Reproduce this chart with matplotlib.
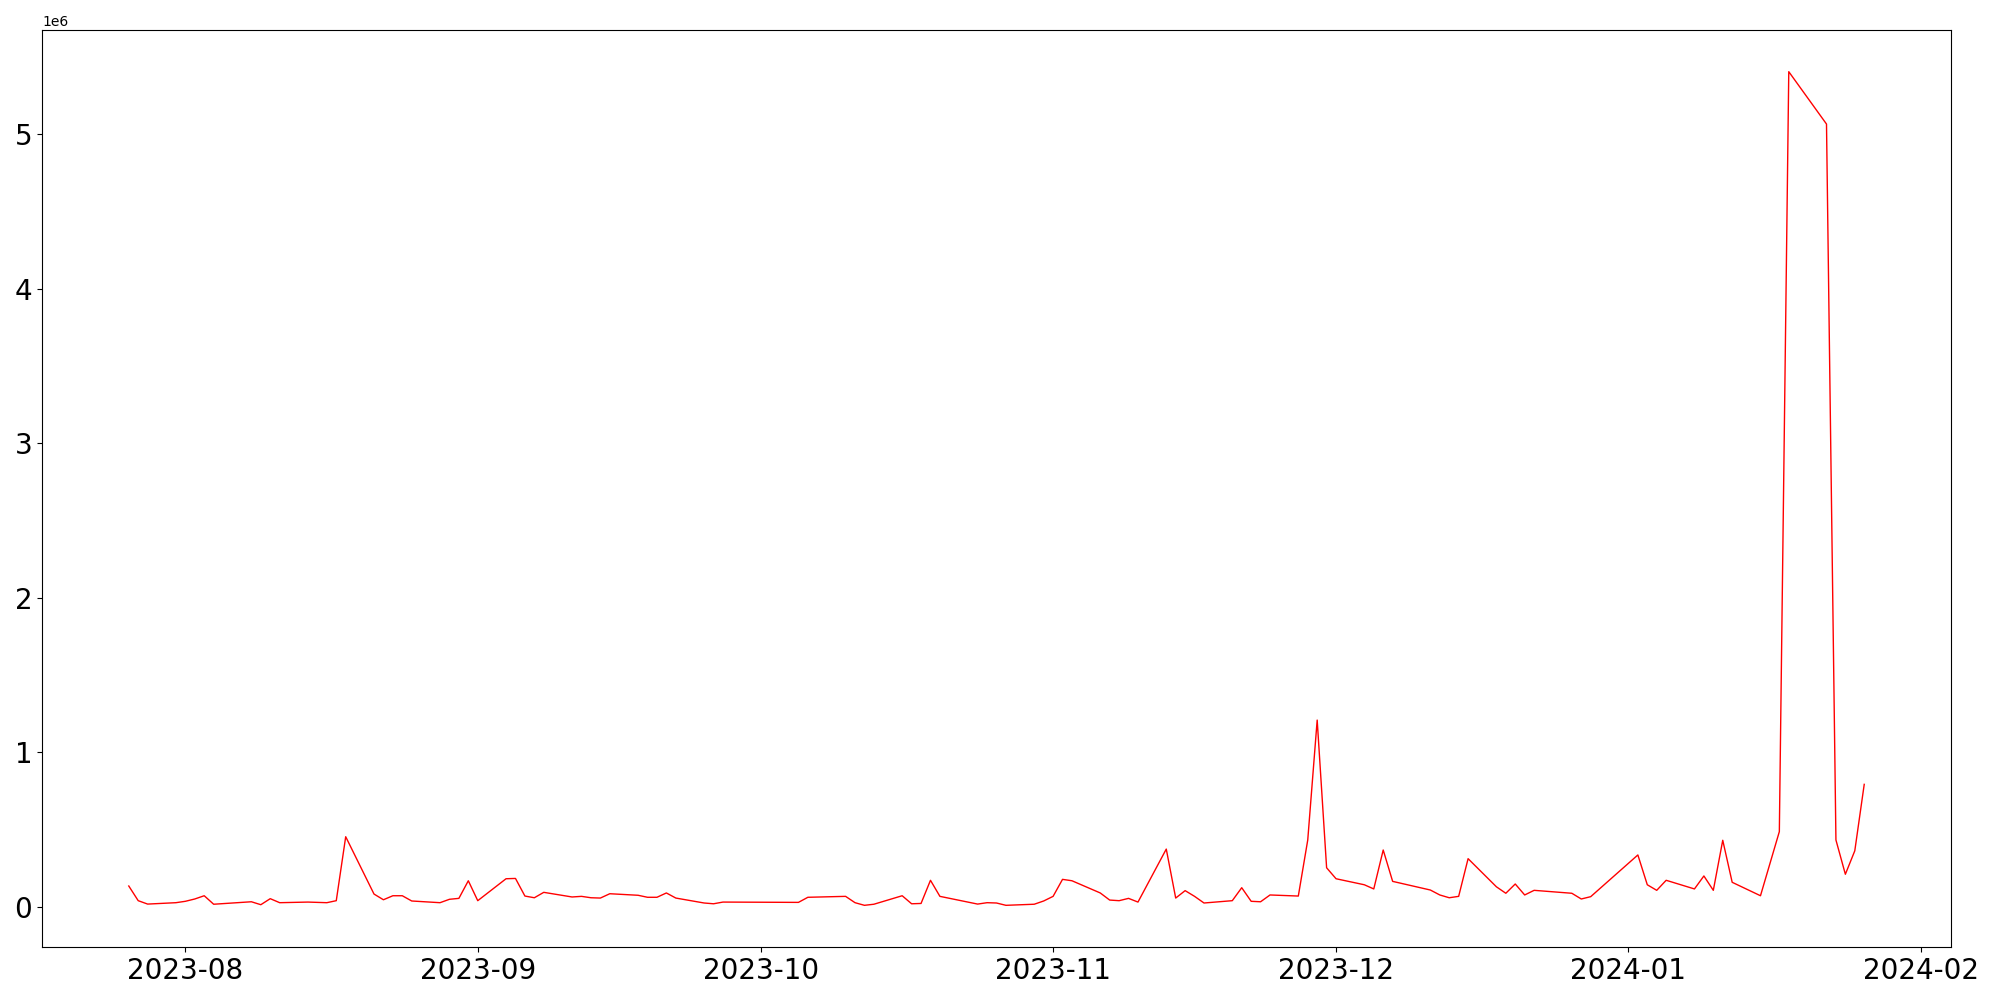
import numpy as np
import pandas as pd
import matplotlib
matplotlib.use('Agg')
import matplotlib.pyplot as plt

dates = [
    '2023-07-26', '2023-07-27', '2023-07-28', '2023-07-31', '2023-08-01', '2023-08-02',
    '2023-08-03', '2023-08-04', '2023-08-08', '2023-08-09', '2023-08-10', '2023-08-11',
    '2023-08-14', '2023-08-16', '2023-08-17', '2023-08-18', '2023-08-21', '2023-08-22',
    '2023-08-23', '2023-08-24', '2023-08-25', '2023-08-28', '2023-08-29', '2023-08-30',
    '2023-08-31', '2023-09-01', '2023-09-04', '2023-09-05', '2023-09-06', '2023-09-07',
    '2023-09-08', '2023-09-11', '2023-09-12', '2023-09-13', '2023-09-14', '2023-09-15',
    '2023-09-18', '2023-09-19', '2023-09-20', '2023-09-21', '2023-09-22', '2023-09-25',
    '2023-09-26', '2023-09-27', '2023-10-05', '2023-10-06', '2023-10-10', '2023-10-11',
    '2023-10-12', '2023-10-13', '2023-10-16', '2023-10-17', '2023-10-18', '2023-10-19',
    '2023-10-20', '2023-10-24', '2023-10-25', '2023-10-26', '2023-10-27', '2023-10-30',
    '2023-10-31', '2023-11-01', '2023-11-02', '2023-11-03', '2023-11-06', '2023-11-07',
    '2023-11-08', '2023-11-09', '2023-11-10', '2023-11-13', '2023-11-14', '2023-11-15',
    '2023-11-16', '2023-11-17', '2023-11-20', '2023-11-21', '2023-11-22', '2023-11-23',
    '2023-11-24', '2023-11-27', '2023-11-28', '2023-11-29', '2023-11-30', '2023-12-01',
    '2023-12-04', '2023-12-05', '2023-12-06', '2023-12-07', '2023-12-11', '2023-12-12',
    '2023-12-13', '2023-12-14', '2023-12-15', '2023-12-18', '2023-12-19', '2023-12-20',
    '2023-12-21', '2023-12-22', '2023-12-26', '2023-12-27', '2023-12-28', '2024-01-02',
    '2024-01-03', '2024-01-04', '2024-01-05', '2024-01-08', '2024-01-09', '2024-01-10',
    '2024-01-11', '2024-01-12', '2024-01-15', '2024-01-17', '2024-01-18', '2024-01-22',
    '2024-01-23', '2024-01-24', '2024-01-25', '2024-01-26',
]

# values in millions
volume_m = [
    0.134, 0.039, 0.017, 0.026, 0.035, 0.050,
    0.071, 0.016, 0.032, 0.013, 0.052, 0.026,
    0.030, 0.026, 0.039, 0.453, 0.082, 0.045,
    0.071, 0.071, 0.037, 0.026, 0.048, 0.054,
    0.168, 0.039, 0.181, 0.183, 0.069, 0.058,
    0.093, 0.063, 0.067, 0.058, 0.056, 0.084,
    0.074, 0.061, 0.061, 0.089, 0.056, 0.024,
    0.019, 0.030, 0.028, 0.061, 0.067, 0.026,
    0.009, 0.016, 0.071, 0.019, 0.021, 0.171,
    0.067, 0.017, 0.026, 0.024, 0.009, 0.016,
    0.037, 0.067, 0.177, 0.168, 0.089, 0.043,
    0.039, 0.054, 0.030, 0.373, 0.056, 0.104,
    0.067, 0.024, 0.039, 0.123, 0.035, 0.032,
    0.076, 0.069, 0.432, 1.208, 0.252, 0.181,
    0.142, 0.115, 0.367, 0.164, 0.108, 0.076,
    0.058, 0.067, 0.311, 0.129, 0.087, 0.147,
    0.076, 0.106, 0.087, 0.050, 0.065, 0.335,
    0.142, 0.106, 0.171, 0.115, 0.199, 0.106,
    0.430, 0.158, 0.071, 0.486, 5.405, 5.066,
    0.432, 0.210, 0.362, 0.792,
]

x = pd.to_datetime(dates)
y = np.array(volume_m) * 1e6

plt.figure(figsize=(20, 10), dpi=100)
plt.plot(x, y, color='red', linewidth=1)
plt.xticks(fontsize=20)
plt.yticks(fontsize=20)
plt.subplots_adjust(left=0.021, right=0.9755, bottom=0.053, top=0.97)
plt.savefig('out.png')
